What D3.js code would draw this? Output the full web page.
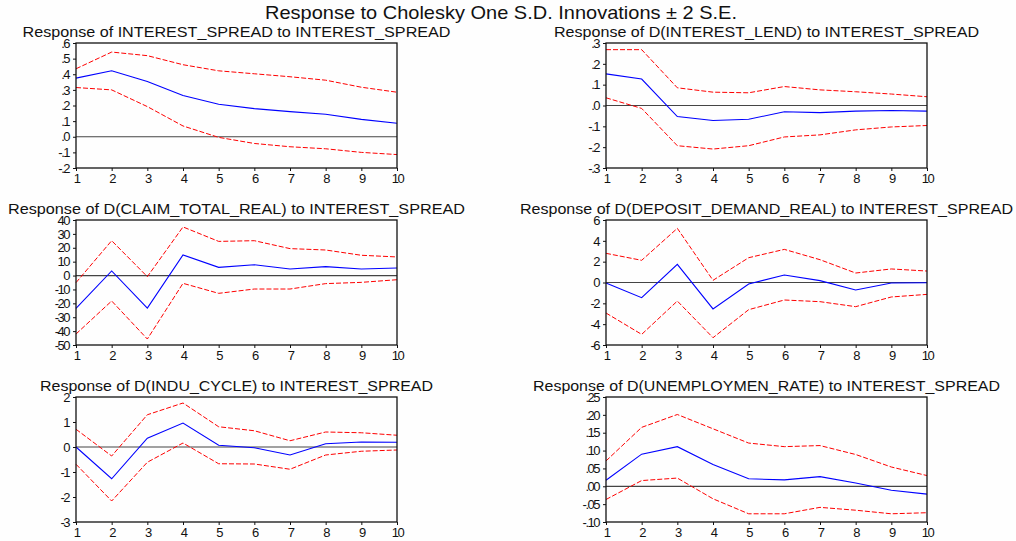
<html>
<head>
<meta charset="utf-8">
<script src="https://cdn.jsdelivr.net/npm/d3@7"></script>
<style>
body{
  margin:0;
  padding:0;
  background:#fefefe;
  overflow:hidden;
  font-family:'Liberation Sans', Arial, sans-serif;
}
</style>
</head>
<body>
<div id="chart"></div>
<script>
//========== DATA =============
const steps = [1,2,3,4,5,6,7,8,9,10];

const mainTitle = "Response to Cholesky One S.D. Innovations \u00b1 2 S.E.";

const panelTitles = [
  "Response of INTEREST_SPREAD to INTEREST_SPREAD",
  "Response of D(INTEREST_LEND) to INTEREST_SPREAD",
  "Response of D(CLAIM_TOTAL_REAL) to INTEREST_SPREAD",
  "Response of D(DEPOSIT_DEMAND_REAL) to INTEREST_SPREAD",
  "Response of D(INDU_CYCLE) to INTEREST_SPREAD",
  "Response of D(UNEMPLOYMEN_RATE) to INTEREST_SPREAD"
];

const yTicks = [
  [-.2,-.1,0,.1,.2,.3,.4,.5,.6],
  [-.3,-.2,-.1,0,.1,.2,.3],
  [-50,-40,-30,-20,-10,0,10,20,30,40],
  [-6,-4,-2,0,2,4,6],
  [-3,-2,-1,0,1,2],
  [-.10,-.05,0,.05,.10,.15,.20,.25]
];
const tickDecimals = [1,1,0,0,0,2];

const response = [
  [.375,.422,.354,.264,.208,.180,.161,.144,.111,.086],
  [.152,.127,-.053,-.072,-.066,-.030,-.034,-.027,-.024,-.027],
  [-23.6,3.3,-23.4,14.8,5.9,7.8,4.7,6.4,4.7,5.4],
  [-0.05,-1.46,1.74,-2.54,-0.14,0.72,0.18,-0.72,-0.05,-0.02],
  [0,-1.27,0.35,0.96,0.07,-0.03,-0.32,0.13,0.20,0.19],
  [.017,.090,.111,.061,.021,.018,.027,.009,-.011,-.022]
];

const upperBand = [
  [.435,.542,.519,.461,.422,.403,.384,.362,.317,.285],
  [.268,.268,.085,.064,.061,.091,.075,.066,.055,.042],
  [-5.1,25.1,-0.8,35.0,24.6,25.1,19.4,18.4,14.6,13.4],
  [2.8,2.13,5.2,0.21,2.38,3.18,2.19,0.91,1.3,1.1],
  [0.71,-0.36,1.29,1.76,0.81,0.65,0.25,0.60,0.57,0.47],
  [.071,.165,.201,.161,.121,.111,.114,.089,.054,.030]
];

const lowerBand = [
  [.315,.300,.193,.069,-.004,-.043,-.064,-.077,-.100,-.114],
  [.037,-.014,-.193,-.209,-.193,-.151,-.141,-.117,-.103,-.096],
  [-42.1,-18.3,-45.7,-5.6,-12.8,-9.7,-9.7,-5.8,-4.9,-3.0],
  [-2.93,-4.98,-1.78,-5.3,-2.61,-1.68,-1.84,-2.32,-1.39,-1.14],
  [-0.69,-2.16,-0.61,0.16,-0.67,-0.68,-0.89,-0.32,-0.17,-0.12],
  [-.037,.016,.023,-.035,-.077,-.077,-.059,-.067,-.077,-.074]
];

//========== LAYOUT =============
const width = 1016, height = 541;
const colX = [[76,397],[606,927]];
const rowY = [[43,168],[220,345],[397,522]];
const titleWidths = [428,425,457,493,393,467];   // measured title widths in px

const svg = d3.select("#chart").append("svg")
  .attr("width", width).attr("height", height)
  .style("font-family", "'Liberation Sans', Arial, sans-serif");

svg.append("rect").attr("width", width).attr("height", height).attr("fill", "#fefefe");

svg.append("text")
  .attr("x", 501).attr("y", 19)
  .attr("text-anchor", "middle")
  .attr("font-size", 19)
  .attr("textLength", 472)
  .attr("lengthAdjust", "spacingAndGlyphs")
  .attr("fill", "#111")
  .text(mainTitle);

// EViews style labels: ".5", "-.1", ".00"
const fmt = (d, dec) => {
  let s = d3.format("." + dec + "f")(d).replace("\u2212", "-");
  return s.replace(/^(-?)0\./, "$1.");
};

panelTitles.forEach((title, i) => {
  const [x0, x1] = colX[i % 2];
  const [y0, y1] = rowY[Math.floor(i / 2)];
  const ticks = yTicks[i];

  const x = d3.scaleLinear().domain([1, 10]).range([x0, x1]);
  const y = d3.scaleLinear().domain([ticks[0], ticks[ticks.length - 1]]).range([y1, y0]);

  const g = svg.append("g");

  // panel title
  g.append("text")
    .attr("x", (x0 + x1) / 2).attr("y", y0 - 6)
    .attr("text-anchor", "middle")
    .attr("font-size", 15)
    .attr("textLength", titleWidths[i])
    .attr("lengthAdjust", "spacingAndGlyphs")
    .attr("fill", "#111")
    .text(title);

  // axes
  const yAxis = d3.axisLeft(y).tickValues(ticks).tickSize(3).tickPadding(4)
    .tickFormat(d => fmt(d, tickDecimals[i]));
  const xAxis = d3.axisBottom(x).tickValues(steps).tickSize(3).tickPadding(3)
    .tickFormat(d3.format("d"));

  const ya = g.append("g").attr("transform", `translate(${x0},0)`).call(yAxis);
  const xa = g.append("g").attr("transform", `translate(0,${y1})`).call(xAxis);
  [ya, xa].forEach(a => {
    a.select(".domain").remove();
    a.selectAll("line").attr("stroke", "#111");
    a.selectAll("text").attr("font-size", 13).attr("fill", "#111")
      .attr("font-family", "'Liberation Sans', Arial, sans-serif")
      .style("letter-spacing", "-1.5px");
  });

  // zero line
  g.append("line")
    .attr("x1", x0).attr("x2", x1)
    .attr("y1", y(0)).attr("y2", y(0))
    .attr("stroke", "#444").attr("stroke-width", 1.2);

  const line = d3.line().x((d, k) => x(steps[k])).y(d => y(d));

  g.append("path").datum(upperBand[i])
    .attr("d", line).attr("fill", "none")
    .attr("stroke", "#ff0000").attr("stroke-width", 1)
    .attr("stroke-dasharray", "5,2");
  g.append("path").datum(lowerBand[i])
    .attr("d", line).attr("fill", "none")
    .attr("stroke", "#ff0000").attr("stroke-width", 1)
    .attr("stroke-dasharray", "5,2");
  g.append("path").datum(response[i])
    .attr("d", line).attr("fill", "none")
    .attr("stroke", "#0000ff").attr("stroke-width", 1.1);

  // frame
  g.append("rect")
    .attr("x", x0).attr("y", y0)
    .attr("width", x1 - x0).attr("height", y1 - y0)
    .attr("fill", "none").attr("stroke", "#111").attr("stroke-width", 1.3);
});
</script>
</body>
</html>
